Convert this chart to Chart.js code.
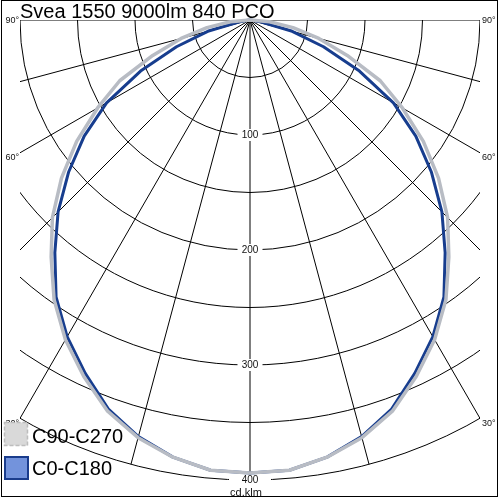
<!DOCTYPE html>
<html>
<head>
<meta charset="utf-8">
<title>Svea 1550 9000lm 840 PCO</title>
<script src="https://cdn.jsdelivr.net/npm/chart.js@4.4.1/dist/chart.umd.min.js"></script>
<style>
  html, body { margin: 0; padding: 0; background: #fff; }
  #wrap { width: 500px; height: 500px; }
</style>
</head>
<body>
<div id="wrap"><canvas id="chart" width="500" height="500"></canvas></div>
<script>
// Polar light distribution diagram (cd/klm)
const chartTitle = 'Svea 1550 9000lm 840 PCO';
const unitLabel = 'cd.klm';
const seriesNames = ['C90-C270', 'C0-C180'];

// gamma angles (0 = straight down) and intensities, mirrored left / right
const gammaAngles = [0, 5, 10, 15, 20, 25, 30, 35, 40, 45, 50, 55, 60, 65, 70, 75, 80, 85, 90];
const c0c180 = [394, 393, 386, 375, 360, 339, 318, 294, 264, 236, 206, 176, 144, 105, 68, 38, 10, 2, 0];
const c90c270 = [394, 393, 386, 376, 362, 342, 321, 297, 269, 243, 214, 184, 153, 125, 90, 62, 38, 17, 0];

// grid
const ringValues = [50, 100, 150, 200, 250, 300, 350, 400];
const ringLabels = [100, 200, 300, 400];
const spokeAngles = [-90, -75, -60, -45, -30, -15, 0, 15, 30, 45, 60, 75, 90];
const angleLabels = [90, 60, 30];
const gridHalfWidth = 200; // cd/klm, horizontal limit of the grid

function toPoints(values) {
    const pts = [];
    // left half, from 90 down to 0
    for (let i = gammaAngles.length - 1; i >= 0; i--) {
        const g = gammaAngles[i] * Math.PI / 180;
        pts.push({ x: -values[i] * Math.sin(g), y: -values[i] * Math.cos(g) });
    }
    // right half, from 0 up to 90
    for (let i = 1; i < gammaAngles.length; i++) {
        const g = gammaAngles[i] * Math.PI / 180;
        pts.push({ x: values[i] * Math.sin(g), y: -values[i] * Math.cos(g) });
    }
    return pts;
}

const polarGrid = {
    id: 'polarGrid',
    beforeDatasetsDraw(chart) {
        const ctx = chart.ctx;
        const xs = chart.scales.x, ys = chart.scales.y;
        const cx = xs.getPixelForValue(0), cy = ys.getPixelForValue(0);
        const k = xs.getPixelForValue(100) - cx; // px per 100 cd/klm
        const left = xs.getPixelForValue(-gridHalfWidth);
        const right = xs.getPixelForValue(gridHalfWidth);
        const rMax = ringValues[ringValues.length - 1] * k / 100;

        ctx.save();
        ctx.beginPath();
        ctx.rect(left, cy, right - left, chart.height - cy);
        ctx.clip();
        ctx.strokeStyle = '#000';
        ctx.lineWidth = 1;

        ringValues.forEach(v => {
            ctx.beginPath();
            ctx.arc(cx, cy, v * k / 100, 0, Math.PI);
            ctx.stroke();
        });
        spokeAngles.forEach(a => {
            const t = a * Math.PI / 180;
            ctx.beginPath();
            ctx.moveTo(cx, cy);
            ctx.lineTo(cx + rMax * Math.sin(t), cy + rMax * Math.cos(t));
            ctx.stroke();
        });
        ctx.restore();

        // ring value labels on the vertical axis
        ctx.save();
        ctx.font = '10px "Liberation Sans", Arial, sans-serif';
        ctx.textAlign = 'center';
        ctx.textBaseline = 'middle';
        ringLabels.forEach((v, i) => {
            const y = cy + v * k / 100;
            const w = (i === ringLabels.length - 1) ? 42 : 25;
            ctx.fillStyle = '#fff';
            ctx.fillRect(cx - w / 2, y - 6, w, 12);
            ctx.fillStyle = '#111';
            ctx.fillText(String(v), cx, y + 0.5);
        });
        ctx.font = '11px "Liberation Sans", Arial, sans-serif';
        ctx.textBaseline = 'alphabetic';
        ctx.fillText(unitLabel, cx - 4, 496);

        // angle labels where the spokes leave the grid
        ctx.font = '9px "Liberation Sans", Arial, sans-serif';
        ctx.textBaseline = 'middle';
        angleLabels.forEach(a => {
            const t = a * Math.PI / 180;
            const rEnd = Math.min(rMax, (right - cx) / Math.sin(t));
            const y = cy + rEnd * Math.cos(t) + (a === 90 ? 1 : 5);
            ctx.textAlign = 'right';
            ctx.fillText(a + '°', left - 1, y);
            ctx.textAlign = 'left';
            ctx.fillText(a + '°', right + 2, y);
        });
        ctx.restore();
    },
    afterDraw(chart) {
        const ctx = chart.ctx;
        ctx.save();
        // legend
        ctx.fillStyle = '#d9d9d9';
        ctx.strokeStyle = '#bdbdbd';
        ctx.lineWidth = 1.5;
        ctx.setLineDash([4, 2]);
        ctx.fillRect(4.5, 422.5, 23, 23);
        ctx.strokeRect(4.5, 422.5, 23, 23);
        ctx.setLineDash([]);
        ctx.fillStyle = '#7393dc';
        ctx.strokeStyle = '#1a3c8c';
        ctx.lineWidth = 2;
        ctx.fillRect(5, 457, 23, 22);
        ctx.strokeRect(5, 457, 23, 22);

        ctx.fillStyle = '#000';
        ctx.font = '20px "Liberation Sans", Arial, sans-serif';
        ctx.textAlign = 'left';
        ctx.textBaseline = 'alphabetic';
        ctx.fillText(seriesNames[0], 32, 443);
        ctx.fillText(seriesNames[1], 32, 475);

        // title
        ctx.fillText(chartTitle, 20, 18);

        // frame
        ctx.strokeStyle = '#000';
        ctx.lineWidth = 1;
        ctx.strokeRect(1.5, 0.5, 496, 496);
        ctx.restore();
    }
};

const pxPerUnit = 1.15;
new Chart(document.getElementById('chart'), {
    type: 'scatter',
    data: {
        datasets: [
            {
                label: seriesNames[0],
                data: toPoints(c90c270),
                showLine: true,
                borderColor: '#b8bcc4',
                borderWidth: 3.5,
                pointRadius: 0
            },
            {
                label: seriesNames[1],
                data: toPoints(c0c180),
                showLine: true,
                borderColor: '#173d8e',
                borderWidth: 3,
                pointRadius: 0
            }
        ]
    },
    options: {
        responsive: false,
        animation: false,
        devicePixelRatio: 1,
        layout: { padding: 0 },
        elements: { line: { tension: 0, borderJoinStyle: 'round' } },
        scales: {
            x: { type: 'linear', display: false, min: -250 / pxPerUnit, max: 250 / pxPerUnit },
            y: { type: 'linear', display: false, min: -480 / pxPerUnit, max: 20 / pxPerUnit }
        },
        plugins: {
            legend: { display: false },
            tooltip: { enabled: false },
            title: { display: false }
        }
    },
    plugins: [polarGrid]
});
</script>
</body>
</html>
